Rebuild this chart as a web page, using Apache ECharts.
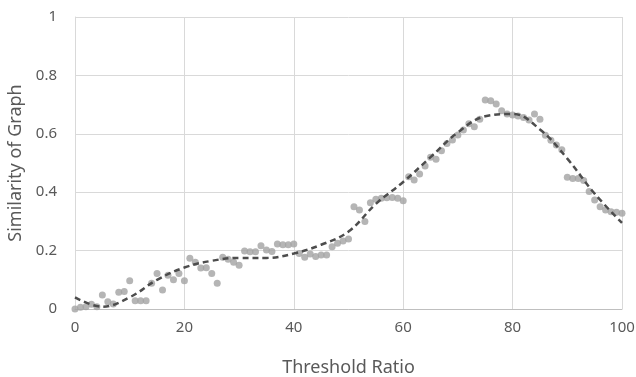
<!DOCTYPE html>
<html>
<head>
<meta charset="utf-8">
<script src="https://cdn.jsdelivr.net/npm/echarts@6/dist/echarts.min.js"></script>
<style>
  html, body { margin: 0; padding: 0; background: #fff; }
  #chart { width: 636px; height: 377px; }
</style>
</head>
<body>
<div id="chart"></div>
<script>
// measured similarity at each threshold ratio 0..100
const ratios = [];
for (let i = 0; i <= 100; i++) ratios.push(i);
const similarity = [
  0.000, 0.006, 0.008, 0.016, 0.008, 0.048, 0.025, 0.017, 0.057, 0.060,
  0.097, 0.028, 0.028, 0.028, 0.088, 0.122, 0.065, 0.116, 0.100, 0.122,
  0.097, 0.174, 0.160, 0.140, 0.141, 0.122, 0.088, 0.177, 0.170, 0.160,
  0.150, 0.199, 0.196, 0.196, 0.217, 0.202, 0.197, 0.223, 0.220, 0.220,
  0.223, 0.190, 0.177, 0.188, 0.180, 0.185, 0.185, 0.213, 0.225, 0.233,
  0.240, 0.350, 0.339, 0.300, 0.364, 0.376, 0.379, 0.381, 0.382, 0.379,
  0.371, 0.453, 0.442, 0.462, 0.490, 0.520, 0.513, 0.542, 0.567, 0.579,
  0.596, 0.613, 0.634, 0.624, 0.650, 0.716, 0.713, 0.702, 0.679, 0.668,
  0.664, 0.661, 0.656, 0.647, 0.668, 0.650, 0.595, 0.578, 0.562, 0.545,
  0.451, 0.447, 0.447, 0.440, 0.402, 0.373, 0.350, 0.339, 0.333, 0.331,
  0.328
];
// trend line
const trendX = [0, 5, 10, 15, 20, 25, 30, 35, 40, 45, 50, 55, 60, 65, 70, 75, 80, 85, 90, 95, 100];
const trendY = [0.04, 0.008, 0.04, 0.10, 0.142, 0.165, 0.175, 0.175, 0.19, 0.22, 0.265, 0.36, 0.435, 0.52, 0.605, 0.66, 0.668, 0.615, 0.515, 0.395, 0.295];

const points = ratios.map((x, i) => [x, similarity[i]]);
const trend = trendX.map((x, i) => [x, trendY[i]]);

const chart = echarts.init(document.getElementById('chart'));
const font = 'Noto Sans';
chart.setOption({
  animation: false,
  grid: { left: 75, right: 14, top: 17, bottom: 68, outerBoundsMode: 'none' },
  xAxis: {
    type: 'value',
    min: 0, max: 100, interval: 20,
    name: 'Threshold Ratio',
    nameLocation: 'middle',
    nameGap: 50,
    nameTextStyle: { fontFamily: font, fontSize: 18, color: '#595959' },
    axisLine: { lineStyle: { color: '#bfbfbf' } },
    axisTick: { show: false },
    axisLabel: { fontFamily: font, fontSize: 15, color: '#595959', margin: 11 },
    splitLine: { show: true, lineStyle: { color: '#d9d9d9' } }
  },
  yAxis: {
    type: 'value',
    min: 0, max: 1, interval: 0.2,
    name: 'Similarity of Graph',
    nameLocation: 'middle',
    nameGap: 44,
    nameTextStyle: { fontFamily: font, fontSize: 18, color: '#595959' },
    axisLine: { show: true, lineStyle: { color: '#d9d9d9' } },
    axisTick: { show: false },
    axisLabel: { fontFamily: font, fontSize: 15, color: '#595959', margin: 18 },
    splitLine: { show: true, lineStyle: { color: '#d9d9d9' } }
  },
  series: [
    {
      type: 'scatter',
      data: points,
      symbolSize: 7,
      itemStyle: { color: '#a3a3a3' },
      z: 2
    },
    {
      type: 'line',
      data: trend,
      smooth: 0.4,
      showSymbol: false,
      lineStyle: { color: '#4d4d4d', width: 2.5, type: [6, 4] },
      z: 3
    }
  ]
});
</script>
</body>
</html>
